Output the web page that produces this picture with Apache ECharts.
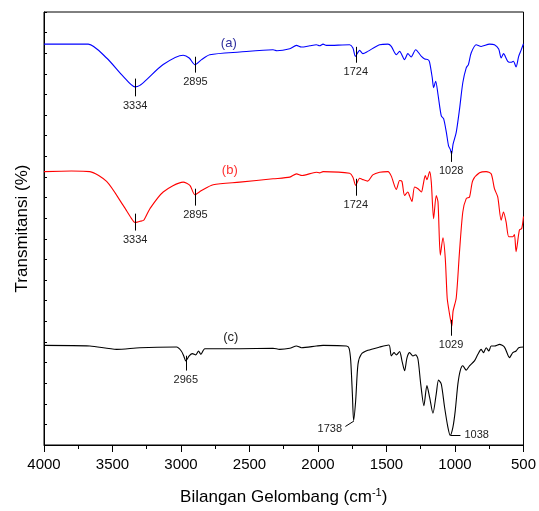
<!DOCTYPE html>
<html>
<head>
<meta charset="utf-8">
<script src="https://cdn.jsdelivr.net/npm/echarts@6/dist/echarts.min.js"></script>
<style>
html,body{margin:0;padding:0;background:#fff;}
#chart{width:539px;height:511px;}
</style>
</head>
<body>
<div id="chart"></div>
<script>
// Wavenumber (cm-1) and transmittance (arbitrary stacked units, one tick = 1)
const waveA = [4000,3677,3543,3422,3336,3300,3251,3130,2984,2940,2899,2850,2790,2571,2328,2300,2206,2157,2121,2060,2012,1988,1963,1939,1769,1745,1727,1696,1672,1637,1550,1489,1465,1428,1404,1368,1344,1320,1287,1245,1221,1198,1186,1166,1156,1141,1124,1100,1083,1063,1047,1035,1025,1014,991,967,943,918,902,882,845,809,748,712,681,663,646,615,591,574,554,535,518,500];
const transA = [19.44,19.44,18.77,17.88,17.37,17.44,17.72,18.45,18.90,18.77,18.45,18.69,18.93,19.06,19.17,19.12,19.22,19.38,19.30,19.36,19.41,19.36,19.44,19.38,19.41,19.25,18.85,19.14,18.98,19.09,19.41,19.44,19.33,18.93,19.09,18.69,18.98,18.82,19.17,18.85,18.72,18.69,18.58,17.81,17.33,17.64,17.00,15.96,15.83,15.16,14.51,14.35,14.11,14.59,15.16,16.28,17.57,18.29,18.45,19.01,19.41,19.33,19.44,19.41,19.20,18.77,18.98,18.61,18.56,18.61,18.34,18.85,19.14,19.46];

const waveB = [4000,3800,3665,3543,3422,3361,3336,3300,3272,3227,3130,2984,2935,2899,2850,2765,2571,2328,2206,2157,2116,2012,1988,1963,1769,1745,1725,1696,1672,1637,1600,1550,1489,1465,1428,1404,1387,1368,1344,1331,1314,1295,1270,1245,1233,1217,1205,1185,1173,1156,1137,1124,1107,1088,1071,1057,1045,1035,1023,1014,991,967,943,918,894,870,821,772,736,712,688,663,646,627,607,578,566,554,530,513,500];
const transB = [13.26,13.29,13.26,12.78,11.62,10.98,10.79,10.85,10.90,11.46,12.27,12.75,12.59,12.14,12.34,12.62,12.75,12.91,12.99,13.15,13.07,13.23,13.20,13.26,13.18,12.99,12.59,12.94,12.87,12.80,13.10,13.23,13.26,13.04,12.39,12.83,12.78,12.10,12.27,12.07,11.81,12.51,12.43,12.27,12.59,13.07,12.87,13.26,12.75,10.98,12.10,11.79,9.21,10.05,9.06,7.13,6.56,6.17,5.77,6.49,7.13,9.38,11.30,11.95,12.03,12.83,13.20,13.26,13.15,12.43,12.03,10.90,11.30,10.82,10.10,10.10,10.21,9.38,10.42,10.50,11.08];

const waveC = [4000,3665,3470,3300,3032,2998,2980,2965,2940,2917,2892,2872,2855,2826,2571,2328,2280,2206,2157,2121,2012,1963,1793,1773,1761,1749,1740,1725,1708,1684,1636,1550,1482,1465,1445,1428,1404,1387,1368,1350,1331,1307,1287,1270,1250,1227,1205,1185,1161,1137,1120,1100,1076,1052,1035,1015,998,979,962,943,918,894,858,833,809,792,772,753,736,712,675,639,602,578,554,535,500];
const transC = [4.83,4.80,4.64,4.72,4.75,4.56,4.32,4.08,4.32,4.43,4.37,4.56,4.40,4.67,4.67,4.69,4.64,4.69,4.80,4.72,4.80,4.83,4.80,4.69,4.08,2.47,1.19,2.15,3.92,4.40,4.59,4.75,4.85,4.32,4.48,4.37,4.53,4.08,3.60,4.24,4.48,4.32,4.37,4.16,2.95,1.91,2.88,2.31,1.54,2.47,3.15,2.95,1.83,0.87,0.47,0.87,1.67,2.95,3.60,3.84,3.63,3.84,4.08,4.40,4.64,4.48,4.72,4.56,4.80,4.80,4.88,4.75,4.24,4.48,4.56,4.72,4.75];

const xTicks = [4000,3500,3000,2500,2000,1500,1000,500];

// Peak annotations: [label, x1, y1, x2, y2]
const peaksA = [['3334',3334,17.77,3334,16.91],['2895',2895,18.83,2895,18.06],['1724',1724,19.31,1724,18.54],['1028',1028,14.26,1028,13.73]];
const peaksB = [['3334',3334,11.22,3334,10.40],['2895',2895,12.43,2895,11.61],['1724',1724,12.91,1724,12.09],['1029',1029,6.07,1029,5.30]];
const peaksC = [['2965',2965,4.33,2965,3.61],['1738',1738,1.16,1800,0.90],['1038',1032,0.48,960,0.48]];

const seriesLabels = [['(a)',2651,19.50,'#2e2e9e'],['(b)',2644,13.30,'#ff3030'],['(c)',2636,5.22,'#222222']];

function zip(w,t){return w.map((x,i)=>[x,t[i]]);}
function peakLines(p){
  return p.map(d=>{
    const lab = {formatter:d[0]};
    if (d[1]!==d[3] && d[2]!==d[4]) lab.padding=[8,0,0,0];
    return [{coord:[d[1],d[2]]},{coord:[d[3],d[4]],label:lab}];
  });
}
function mkSeries(name,w,t,color,peaks,lab){
  return {
    name:name,type:'line',data:zip(w,t),showSymbol:false,symbol:'none',smooth:0.25,
    lineStyle:{color:color,width:1.1},animation:false,z:3,
    markLine:{silent:true,symbol:['none','none'],animation:false,
      lineStyle:{color:'#000',width:1,type:'solid'},
      label:{show:true,position:'end',color:'#222',fontSize:11,fontFamily:'Liberation Sans, Arial, sans-serif',distance:4},
      data:peakLines(peaks)},
    markPoint:{silent:true,symbol:'circle',symbolSize:0,animation:false,
      label:{show:true,position:'inside',formatter:lab[0],color:lab[3],fontSize:13,fontFamily:'Liberation Sans, Arial, sans-serif'},
      data:[{coord:[lab[1],lab[2]]}]}
  };
}

const chart = echarts.init(document.getElementById('chart'),null,{renderer:'canvas'});
chart.setOption({
  animation:false,
  backgroundColor:'#fff',
  grid:{left:44,right:15,top:12,bottom:64,show:true,borderColor:'#000',borderWidth:1,backgroundColor:'transparent'},
  xAxis:{type:'value',inverse:true,min:500,max:4000,interval:500,
    axisLine:{show:true,lineStyle:{color:'#000',width:1}},
    axisTick:{show:true,inside:false,length:7,lineStyle:{color:'#000'}},
    minorTick:{show:true,splitNumber:2,length:4,lineStyle:{color:'#000'}},
    splitLine:{show:false},
    axisLabel:{show:true,color:'#000',fontSize:15,margin:12,fontFamily:'Liberation Sans, Arial, sans-serif',
      formatter:v=>xTicks.indexOf(v)>=0?String(v):''},
    name:'{t|Bilangan Gelombang (cm}{s|-1}{t|)}',nameLocation:'middle',nameGap:42,
    nameTextStyle:{rich:{t:{fontSize:17,color:'#000',fontFamily:'Liberation Sans, Arial, sans-serif'},
      s:{fontSize:11,color:'#000',verticalAlign:'top',fontFamily:'Liberation Sans, Arial, sans-serif',padding:[0,0,10,0]}}}
  },
  yAxis:{type:'value',min:0,max:21,interval:1,
    axisLine:{show:true,lineStyle:{color:'#000',width:1}},
    axisTick:{show:true,inside:true,length:3,lineStyle:{color:'#000'}},
    splitLine:{show:false},axisLabel:{show:false},
    name:'Transmitansi (%)',nameLocation:'middle',nameGap:13,
    nameTextStyle:{fontSize:17,color:'#000',fontFamily:'Liberation Sans, Arial, sans-serif'}
  },
  series:[
    mkSeries('a',waveA,transA,'#0000ff',peaksA,seriesLabels[0]),
    mkSeries('b',waveB,transB,'#ff0000',peaksB,seriesLabels[1]),
    mkSeries('c',waveC,transC,'#000000',peaksC,seriesLabels[2])
  ]
});
</script>
</body>
</html>
